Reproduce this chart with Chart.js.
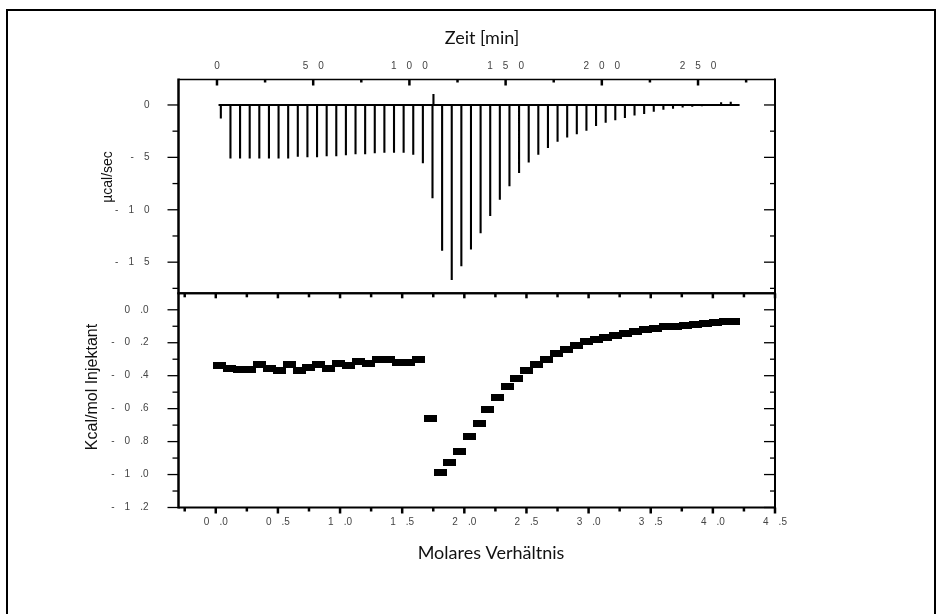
<!DOCTYPE html>
<html>
<head>
<meta charset="utf-8">
<script src="https://cdn.jsdelivr.net/npm/chart.js@4.4.0/dist/chart.umd.min.js"></script>
<style>
  html, body { margin: 0; padding: 0; background: #fff; }
  #page { position: relative; width: 943px; height: 614px; overflow: hidden; background: #fff; }
  #frame { position: absolute; left: 6px; top: 9px; width: 926px; height: 640px; border: 2px solid #000; }
  canvas { position: absolute; left: 0; top: 0; }
</style>
</head>
<body>
<div id="page">
  <div id="frame"></div>
  <canvas id="thermo" width="943" height="614"></canvas>
  <canvas id="isotherm" width="943" height="614"></canvas>
</div>
<script>
// --- Thermogramm (oben): Zeit [min] / Peak [µcal/sec] ---
var injTimes = [2, 7, 12, 17, 22, 27, 32, 37, 42, 47, 52, 57, 62, 67, 72, 77, 82, 87, 92, 97,
  102, 107, 112, 117, 122, 127, 132, 137, 142, 147, 152, 157, 162, 167, 172, 177, 182, 187,
  192, 197, 202, 207, 212, 217, 222, 227, 232, 237, 242, 247, 252, 257, 262, 267];
var injPeaks = [-1.3,
  -5.1, -5.1, -5.1, -5.1, -5.1, -5.1, -5.1,
  -4.95, -5.0, -5.0, -4.9, -4.9,
  -4.8, -4.7, -4.7, -4.6, -4.55, -4.55, -4.55,
  -4.75, -5.55,
  -8.9, -13.9, -16.7, -15.4, -13.8, -12.25, -10.6,
  -9.05, -7.75, -6.5, -5.5, -4.75, -4.1, -3.5,
  -3.1, -2.8, -2.45, -2.0, -1.7, -1.45, -1.25, -1.0, -0.85, -0.65, -0.45, -0.35, -0.25,
  -0.18, -0.12, -0.08, 0.25, 0.3];
var blipTimes = [112.5];
var blipValues = [1.05];
var baselineRange = [0.8, 271.6];

// --- Bindungsisotherme (unten): Molares Verhältnis / Kcal/mol Injektant ---
var ratio = [0.03, 0.11, 0.19, 0.27, 0.35, 0.43, 0.51, 0.59, 0.67, 0.75, 0.83, 0.91, 0.99, 1.07,
  1.15, 1.23, 1.31, 1.39, 1.47, 1.55, 1.63,
  1.73, 1.81, 1.88, 1.96, 2.04, 2.12, 2.19, 2.27, 2.35, 2.42, 2.50, 2.58, 2.66, 2.74, 2.82,
  2.90, 2.98, 3.06, 3.14, 3.22, 3.30, 3.38, 3.46, 3.54, 3.62, 3.70, 3.78, 3.86, 3.94, 4.02,
  4.10, 4.17];
var heat = [-0.34, -0.354, -0.362, -0.36, -0.33, -0.354, -0.366, -0.33, -0.366, -0.35, -0.33,
  -0.354, -0.325, -0.34, -0.313, -0.325, -0.30, -0.30, -0.319, -0.319, -0.30,
  -0.661, -0.99, -0.927, -0.858, -0.769, -0.691, -0.606, -0.533, -0.468, -0.415, -0.370,
  -0.334, -0.301, -0.268, -0.240, -0.216, -0.195, -0.181, -0.171, -0.155, -0.143, -0.132,
  -0.122, -0.116, -0.104, -0.100, -0.098, -0.092, -0.086, -0.080, -0.074, -0.070];

// Achsenteilung
var timeMajor = [0, 50, 100, 150, 200, 250];
var timeMinor = [25, 75, 125, 175, 225, 275];
var powerMajor = [0, -5, -10, -15];
var powerMinor = [-2.5, -7.5, -12.5, -17.5];
var ratioMajor = [0, 0.5, 1.0, 1.5, 2.0, 2.5, 3.0, 3.5, 4.0, 4.5];
var ratioMinor = [-0.25, 0.25, 0.75, 1.25, 1.75, 2.25, 2.75, 3.25, 3.75, 4.25];
var heatMajor = [0, -0.2, -0.4, -0.6, -0.8, -1.0, -1.2];
var heatMinor = [-0.1, -0.3, -0.5, -0.7, -0.9, -1.1];

// Beschriftung im Origin-Stil: "- 0 .2", "1 0 0"
function spaced(v, dec) {
  var s = v.toFixed(dec);
  if (s === "-0" || s === "-0.0") s = s.substring(1);
  var out = [];
  for (var i = 0; i < s.length; i++) {
    if (s[i] === ".") { out.push("." + s[i + 1]); i++; }
    else out.push(s[i]);
  }
  return out.join("\u2003");
}

var tickFont = { family: "'Liberation Sans', Arial, sans-serif", size: 10 };
var tickColor = "#444";

function line(ctx, x1, y1, x2, y2, w) {
  ctx.lineWidth = w;
  ctx.beginPath();
  ctx.moveTo(x1, y1);
  ctx.lineTo(x2, y2);
  ctx.stroke();
}

// Rahmen, Teilstriche und Achsentitel
var framePlugin = {
  id: "frame",
  afterDraw: function (chart, args, opts) {
    var ctx = chart.ctx, a = chart.chartArea;
    var xs = chart.scales.x, ys = chart.scales.y;
    ctx.save();
    ctx.strokeStyle = "#000";
    ctx.lineCap = "butt";

    // senkrechte Achsen: links nach außen, rechts nach innen
    opts.yMajor.forEach(function (v) {
      var p = ys.getPixelForValue(v);
      line(ctx, a.left, p, a.left - 11, p, 1.3);
      line(ctx, a.right, p, a.right - 11, p, 1.3);
    });
    opts.yMinor.forEach(function (v) {
      var p = ys.getPixelForValue(v);
      line(ctx, a.left, p, a.left - 6, p, 1.3);
      line(ctx, a.right, p, a.right - 5, p, 1.3);
    });

    // waagrechte Achsen
    opts.xMajor.forEach(function (v) {
      var p = xs.getPixelForValue(v);
      if (opts.xSide === "top") {
        line(ctx, p, a.top, p, a.top + 6, 2.5);
      } else {
        line(ctx, p, a.top, p, a.top + 5, 2.5);
        line(ctx, p, a.bottom, p, a.bottom + 6, 2.5);
      }
    });
    opts.xMinor.forEach(function (v) {
      var p = xs.getPixelForValue(v);
      if (opts.xSide === "top") {
        line(ctx, p, a.top, p, a.top + 3, 2.5);
      } else {
        line(ctx, p, a.top, p, a.top + 4, 2.5);
        line(ctx, p, a.bottom, p, a.bottom + 4, 2.5);
      }
    });

    // Rahmen
    line(ctx, a.left, a.top, a.right, a.top, opts.xSide === "top" ? 1.5 : 2);
    line(ctx, a.left, a.bottom, a.right, a.bottom, 2);
    line(ctx, a.left, a.top - 1, a.left, a.bottom + 1, 2.5);
    line(ctx, a.right, a.top - 1, a.right, a.bottom + 1, 2);

    // Titel
    opts.titles.forEach(function (t) {
      ctx.save();
      ctx.translate(t.x, t.y);
      if (t.rot) ctx.rotate(t.rot);
      ctx.font = t.font;
      ctx.fillStyle = t.color;
      ctx.textAlign = "center";
      ctx.textBaseline = "middle";
      ctx.fillText(t.text, 0, 0);
      ctx.restore();
    });
    ctx.restore();
  }
};

// Linienzug des Thermogramms aus den Injektionen
var thermoPoints = [{ x: baselineRange[0], y: 0 }];
injTimes.forEach(function (t, i) {
  thermoPoints.push({ x: t, y: 0 }, { x: t, y: injPeaks[i] }, { x: t, y: 0 });
});
blipTimes.forEach(function (t, i) {
  thermoPoints.push({ x: t, y: 0 }, { x: t, y: blipValues[i] }, { x: t, y: 0 });
});
thermoPoints.push({ x: baselineRange[1], y: 0 });
thermoPoints.sort(function (p, q) { return p.x - q.x; });

new Chart(document.getElementById("thermo"), {
  type: "line",
  data: {
    datasets: [{
      data: thermoPoints,
      borderColor: "#000",
      borderWidth: 2.1,
      pointRadius: 0,
      tension: 0,
      fill: false
    }]
  },
  options: {
    responsive: false,
    animation: false,
    events: [],
    layout: { padding: { left: 100, right: 168, top: 20, bottom: 320.7 } },
    plugins: {
      legend: { display: false },
      tooltip: { enabled: false },
      frame: {
        xSide: "top",
        xMajor: timeMajor, xMinor: timeMinor,
        yMajor: powerMajor, yMinor: powerMinor,
        titles: [
          { text: "Zeit [min]", x: 482, y: 38, font: "18px Lato", color: "#111" },
          { text: "µcal/sec", x: 108, y: 177, rot: -Math.PI / 2, font: "14px 'Liberation Sans'", color: "#111" }
        ]
      }
    },
    scales: {
      x: {
        type: "linear", position: "top", min: -20, max: 290,
        grid: { display: false, drawTicks: false }, border: { display: false },
        afterBuildTicks: function (s) { s.ticks = timeMajor.map(function (v) { return { value: v }; }); },
        afterFit: function (s) { s.height = 59.5; },
        ticks: { padding: 7, font: tickFont, color: tickColor, maxRotation: 0, autoSkip: false,
          callback: function (v) { return spaced(v, 0); } }
      },
      y: {
        type: "linear", position: "left", min: -17.97, max: 2.43,
        grid: { display: false, drawTicks: false }, border: { display: false },
        afterBuildTicks: function (s) { s.ticks = powerMajor.map(function (v) { return { value: v }; }); },
        afterFit: function (s) { s.width = 78.5; },
        ticks: { padding: 29, font: tickFont, color: tickColor, autoSkip: false,
          callback: function (v) { return spaced(v, 0); } }
      }
    }
  },
  plugins: [framePlugin]
});

// Messpunkte als breite schwarze Rechtecke
var box = document.createElement("canvas");
box.width = 13; box.height = 7;
var bctx = box.getContext("2d");
bctx.fillStyle = "#000";
bctx.fillRect(0, 0, 13, 7);

new Chart(document.getElementById("isotherm"), {
  type: "scatter",
  data: {
    datasets: [{
      data: ratio.map(function (r, i) { return { x: r, y: heat[i] }; }),
      pointStyle: box,
      pointRadius: 6,
      backgroundColor: "#000",
      borderColor: "#000"
    }]
  },
  options: {
    responsive: false,
    animation: false,
    events: [],
    layout: { padding: { left: 100, right: 168, top: 293.3, bottom: 40 } },
    plugins: {
      legend: { display: false },
      tooltip: { enabled: false },
      frame: {
        xSide: "bottom",
        xMajor: ratioMajor, xMinor: ratioMinor,
        yMajor: heatMajor, yMinor: heatMinor,
        titles: [
          { text: "Molares Verhältnis", x: 491, y: 553, font: "18px Lato", color: "#111" },
          { text: "Kcal/mol Injektant", x: 93, y: 387, rot: -Math.PI / 2, font: "16px 'Liberation Sans'", color: "#111" }
        ]
      }
    },
    scales: {
      x: {
        type: "linear", position: "bottom", min: -0.3, max: 4.5,
        grid: { display: false, drawTicks: false }, border: { display: false },
        afterBuildTicks: function (s) { s.ticks = ratioMajor.map(function (v) { return { value: v }; }); },
        afterFit: function (s) { s.height = 66.5; },
        ticks: { padding: 8.5, font: tickFont, color: tickColor, maxRotation: 0, autoSkip: false,
          callback: function (v) { return spaced(v, 1); } }
      },
      y: {
        type: "linear", position: "left", min: -1.2, max: 0.1,
        grid: { display: false, drawTicks: false }, border: { display: false },
        afterBuildTicks: function (s) { s.ticks = heatMajor.map(function (v) { return { value: v }; }); },
        afterFit: function (s) { s.width = 78.5; },
        ticks: { padding: 30, font: tickFont, color: tickColor, autoSkip: false,
          callback: function (v) { return spaced(v, 1); } }
      }
    }
  },
  plugins: [framePlugin]
});
</script>
</body>
</html>
